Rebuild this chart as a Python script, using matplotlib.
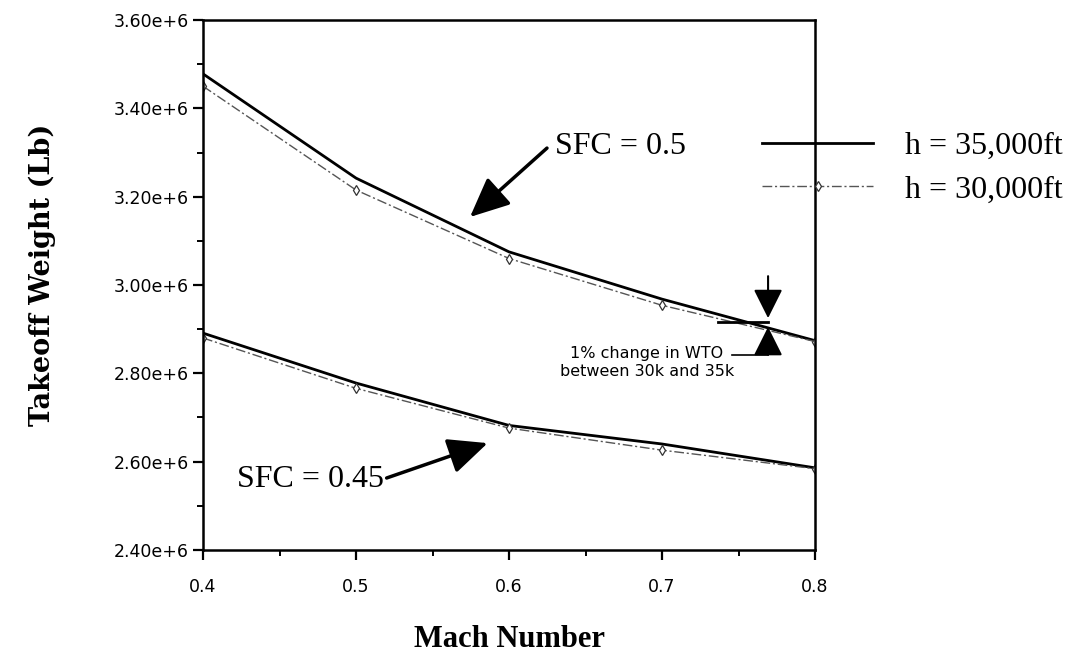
"""Takeoff weight vs Mach number for two SFC values at two cruise altitudes."""

import matplotlib
matplotlib.use("Agg")
import matplotlib.pyplot as plt
from matplotlib.ticker import FuncFormatter, MultipleLocator

# ── data ─────────────────────────────────────────────────────────────────────
mach = [0.4, 0.5, 0.6, 0.7, 0.8]

# SFC = 0.5
wto_sfc50_h35 = [3.478e6, 3.242e6, 3.075e6, 2.968e6, 2.874e6]
wto_sfc50_h30 = [3.450e6, 3.215e6, 3.060e6, 2.954e6, 2.872e6]

# SFC = 0.45
wto_sfc45_h35 = [2.891e6, 2.778e6, 2.682e6, 2.640e6, 2.586e6]
wto_sfc45_h30 = [2.880e6, 2.766e6, 2.676e6, 2.626e6, 2.584e6]

labels = ["h = 35,000ft", "h = 30,000ft"]

# ── figure ───────────────────────────────────────────────────────────────────
fig = plt.figure(figsize=(10.72, 6.56), dpi=100)
ax = fig.add_axes([0.1894, 0.1616, 0.5709, 0.8079])

solid_kw = dict(color="black", linewidth=2.0, solid_joinstyle="miter")
dash_kw = dict(color="#555555", linewidth=1.0, linestyle=(0, (7, 2, 1.5, 2)),
               marker="d", markersize=5, markerfacecolor="white",
               markeredgecolor="#333333", markeredgewidth=0.9)

l35, = ax.plot(mach, wto_sfc50_h35, label=labels[0], **solid_kw)
l30, = ax.plot(mach, wto_sfc50_h30, label=labels[1], **dash_kw)
ax.plot(mach, wto_sfc45_h35, **solid_kw)
ax.plot(mach, wto_sfc45_h30, **dash_kw)

ax.set_xlim(0.4, 0.8)
ax.set_ylim(2.40e6, 3.60e6)
ax.xaxis.set_major_locator(MultipleLocator(0.1))
ax.xaxis.set_minor_locator(MultipleLocator(0.05))
ax.yaxis.set_major_locator(MultipleLocator(0.2e6))
ax.yaxis.set_minor_locator(MultipleLocator(0.1e6))
ax.yaxis.set_major_formatter(FuncFormatter(lambda v, _: f"{v / 1e6:.2f}e+6"))
ax.xaxis.set_major_formatter(FuncFormatter(lambda v, _: f"{v:.1f}"))

for s in ax.spines.values():
    s.set_linewidth(1.8)
ax.tick_params(which="major", length=7, width=1.6, labelsize=12.5,
               direction="out", pad=3)
ax.tick_params(axis="x", which="major", pad=13)
ax.tick_params(which="minor", length=4, width=1.4, direction="out")

ax.set_xlabel("Mach Number", fontsize=22, fontweight="bold",
              family="Liberation Serif", va="center")
ax.xaxis.set_label_coords(0.5, -0.168)
ax.set_ylabel("Takeoff Weight (Lb)", fontsize=19.5, fontweight="bold",
              family="DejaVu Serif", va="center")
ax.yaxis.set_label_coords(-0.263, 0.52)

# ── annotations ──────────────────────────────────────────────────────────────
serif = dict(family="Liberation Serif", size=23)
big_arrow = dict(arrowstyle="-|>,head_length=1.1,head_width=0.5",
                 color="black", linewidth=2.5, mutation_scale=22,
                 shrinkA=0, shrinkB=0)

ax.text(0.630, 3.3125e6, "SFC = 0.5", ha="left", va="center", **serif)
ax.annotate("", xy=(0.5745, 3.154e6), xytext=(0.6248, 3.310e6),
            arrowprops=big_arrow)

ax.text(0.4222, 2.5586e6, "SFC = 0.45", ha="left", va="center", **serif)
ax.annotate("", xy=(0.586, 2.642e6), xytext=(0.520, 2.563e6),
            arrowprops=big_arrow)

ax.text(0.690, 2.8234e6, "1% change in WTO\nbetween 30k and 35k",
        ha="center", va="center", fontsize=11.5, linespacing=1.25)

small_arrow = dict(arrowstyle="-|>,head_length=0.9,head_width=0.45",
                   color="black", linewidth=1.5, mutation_scale=20,
                   shrinkA=0, shrinkB=0)
ax.annotate("", xy=(0.7693, 2.925e6), xytext=(0.7693, 3.020e6),
            arrowprops=small_arrow)
ax.annotate("", xy=(0.7693, 2.905e6), xytext=(0.7693, 2.842e6),
            arrowprops=small_arrow)
ax.plot([0.7460, 0.7693], [2.842e6, 2.842e6], color="black", linewidth=1.2)
ax.plot([0.7366, 0.7693], [2.917e6, 2.917e6], color="black", linewidth=2.0)

# legend sitting over the right spine
ax.legend(handles=[l35, l30], loc="center left", frameon=False,
          bbox_to_anchor=(762 / 1072, 1 - 168 / 656),
          bbox_transform=fig.transFigure, prop=serif, numpoints=1,
          handlelength=3.48, handletextpad=1.0, labelspacing=0.45,
          borderpad=0, borderaxespad=0)

fig.savefig("out.png", dpi=100)
